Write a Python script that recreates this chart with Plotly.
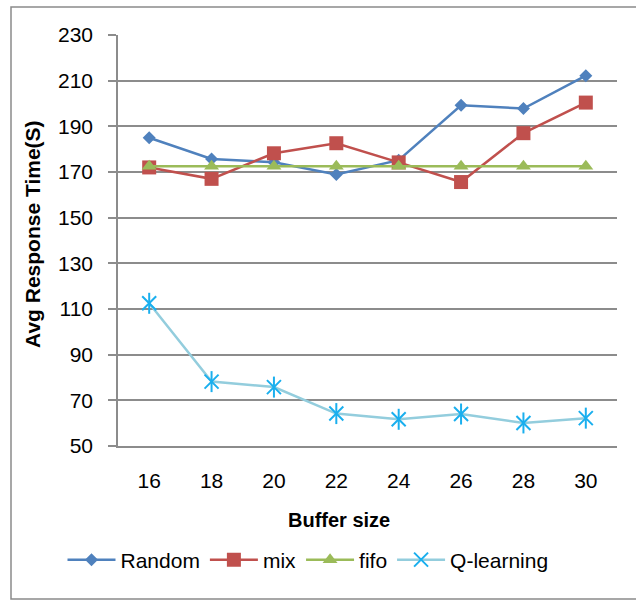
import plotly.graph_objects as go

buffer_sizes = [16, 18, 20, 22, 24, 26, 28, 30]
random_vals = [185, 175.7, 174.3, 168.9, 175.2, 199.2, 197.8, 212.2]
mix_vals = [172.0, 167.0, 178.2, 182.6, 174.2, 165.6, 187.0, 200.4]
fifo_vals = [172.5, 172.5, 172.5, 172.5, 172.5, 172.5, 172.5, 172.5]
qlearning_vals = [112.5, 78.2, 75.8, 64.2, 61.7, 64.0, 60.1, 62.2]
y_ticks = [50, 70, 90, 110, 130, 150, 170, 190, 210, 230]

FONT = "Liberation Sans"
GRID = "#8c8c8c"
QCOL = "#1AAFEE"

fig = go.Figure()
fig.add_trace(go.Scatter(x=buffer_sizes, y=random_vals, name="Random", mode="lines+markers",
                         line=dict(color="#4F81BD", width=2.5),
                         marker=dict(symbol="diamond", size=10, color="#4F81BD")))
fig.add_trace(go.Scatter(x=buffer_sizes, y=mix_vals, name="mix", mode="lines+markers",
                         line=dict(color="#C0504D", width=2.5),
                         marker=dict(symbol="square", size=14, color="#C0504D")))
fig.add_trace(go.Scatter(x=buffer_sizes, y=fifo_vals, name="fifo", mode="lines+markers",
                         line=dict(color="#9BBB59", width=2.5),
                         marker=dict(symbol="triangle-up", size=13, color="#9BBB59")))
fig.add_trace(go.Scatter(x=buffer_sizes, y=qlearning_vals, name="Q-learning", mode="lines+markers",
                         line=dict(color="#93CDDD", width=2.5),
                         marker=dict(symbol="x-thin-open", size=14, color=QCOL,
                                     line=dict(color=QCOL, width=2))))
fig.add_trace(go.Scatter(x=buffer_sizes, y=qlearning_vals, name="Q-learning", mode="markers",
                         showlegend=False,
                         marker=dict(symbol="line-ns-open", size=15, color=QCOL,
                                     line=dict(color=QCOL, width=2))))

L, R, T, B = 118, 617, 35, 446
W, H = 636, 600

def px_x(p):
    return (p - L) / (R - L)

def px_y(p):
    return (B - p) / (B - T)

fig.update_layout(
    width=W, height=H,
    margin=dict(l=L, r=W - R, t=T, b=H - B, autoexpand=False),
    paper_bgcolor="white", plot_bgcolor="white",
    font=dict(family=FONT, size=21, color="#000000"),
    showlegend=True,
    legend=dict(orientation="h", x=px_x(308), y=px_y(560), xanchor="center", yanchor="middle",
                font=dict(family=FONT, size=21), itemwidth=48, bgcolor="rgba(0,0,0,0)"),
    xaxis=dict(range=[15, 31], tickmode="array", tickvals=buffer_sizes,
               ticktext=[str(v) for v in buffer_sizes],
               showgrid=False, zeroline=False, showline=True, linecolor=GRID, linewidth=1.5,
               ticks="outside", ticklen=15, tickcolor="rgba(0,0,0,0)",
               tickfont=dict(family=FONT, size=21)),
    yaxis=dict(range=[50, 230], tickmode="array", tickvals=y_ticks,
               showgrid=True, gridcolor=GRID, gridwidth=1.5, zeroline=False,
               showline=True, linecolor=GRID, linewidth=1.5,
               ticks="outside", ticklen=8, tickcolor=GRID, tickwidth=1.5,
               ticklabelstandoff=11,
               tickfont=dict(family=FONT, size=21)),
    annotations=[
        dict(text="<b>Buffer size</b>", x=px_x(339), y=px_y(520), xref="paper", yref="paper",
             showarrow=False, font=dict(family=FONT, size=20), xanchor="center", yanchor="middle"),
        dict(text="<b>Avg Response Time(S)</b>", x=px_x(33), y=px_y(234), xref="paper", yref="paper",
             showarrow=False, textangle=-90, font=dict(family=FONT, size=21),
             xanchor="center", yanchor="middle"),
    ],
    shapes=[
        dict(type="rect", xref="paper", yref="paper",
             x0=px_x(11), x1=px_x(645), y0=px_y(599), y1=px_y(7),
             line=dict(color="#8a8a8a", width=1.5), fillcolor="rgba(0,0,0,0)", layer="above"),
    ],
)

fig.write_html("out.html", config={"displayModeBar": False},
               post_script="document.body.style.margin='0';document.body.style.padding='0';")
